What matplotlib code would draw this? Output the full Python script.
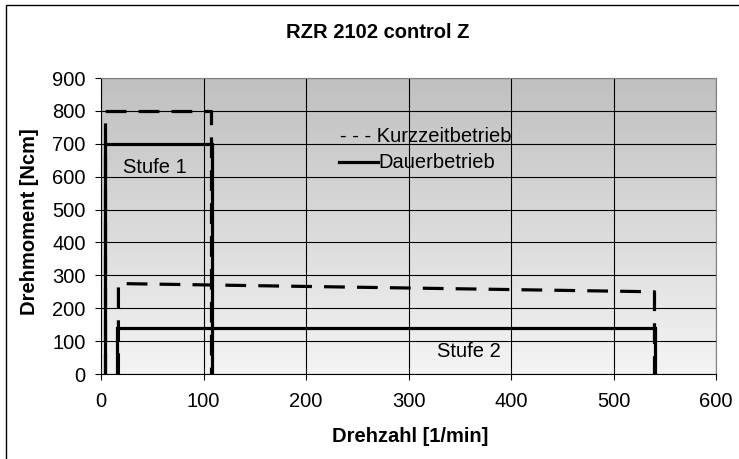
import numpy as np
import matplotlib.pyplot as plt
from matplotlib.patches import Rectangle

plt.rcParams['font.family'] = ['Liberation Sans', 'DejaVu Sans']

title = 'RZR 2102 control Z'
xlabel = 'Drehzahl [1/min]'
ylabel = 'Drehmoment [Ncm]'

# Dauerbetrieb (solid)
dauer1_x = [4, 4, 108, 108]
dauer1_y = [0, 700, 700, 0]
dauer2_x = [16, 16, 540, 540]
dauer2_y = [0, 140, 140, 0]

# Kurzzeitbetrieb (dashed)
kurz1_x = [4, 4, 107, 107]
kurz1_y = [0, 800, 800, 0]
kurz2_x = [17, 17, 540, 540]
kurz2_y = [0, 275, 250, 0]

xticks = [0, 100, 200, 300, 400, 500, 600]
yticks = [0, 100, 200, 300, 400, 500, 600, 700, 800, 900]

W, H = 739, 459
fs = 14.5
lw = 2.3

fig = plt.figure(figsize=(W / 100, H / 100), dpi=100)
fig.patch.set_facecolor('white')

# chart frame (only left/top visible in the crop)
fig.patches.append(Rectangle((6 / W, -0.05), 1.2, 1 - 5 / H + 0.05, transform=fig.transFigure,
                             fill=False, edgecolor='black', linewidth=1.0))

ax = fig.add_axes([101 / W, 1 - 374 / H, (716 - 101) / W, (374 - 78) / H])

# gray gradient background: dark at top, light at bottom
g = np.linspace(192, 244, 256) / 255.0
grad = np.repeat(g.reshape(-1, 1, 1), 3, axis=2)
ax.imshow(grad, extent=[0, 600, 0, 900], origin='upper', aspect='auto', zorder=0)

ax.set_xlim(0, 600)
ax.set_ylim(0, 900)
ax.set_xticks(xticks)
ax.set_yticks(yticks)
ax.grid(True, color='black', linewidth=0.8)
ax.set_axisbelow(True)
for s in ['top', 'right']:
    ax.spines[s].set_color('#808080')
for s in ['left', 'bottom']:
    ax.spines[s].set_color('black')
ax.tick_params(direction='out', length=4, width=0.8, labelsize=fs)
ax.tick_params(axis='x', pad=9)
ax.tick_params(axis='y', pad=7)

dash = (6.5, 3.8)
ax.plot(dauer1_x, dauer1_y, color='black', linewidth=lw, solid_joinstyle='miter', zorder=3)
ax.plot(dauer2_x, dauer2_y, color='black', linewidth=lw, solid_joinstyle='miter', zorder=3)
ax.plot(kurz1_x, kurz1_y, color='black', linewidth=lw, dashes=dash, zorder=3)
ax.plot(kurz2_x, kurz2_y, color='black', linewidth=lw, dashes=dash, zorder=3)

ax.text(53, 629, 'Stufe 1', fontsize=fs, ha='center', va='center', zorder=4)
ax.text(359, 67, 'Stufe 2', fontsize=fs, ha='center', va='center', zorder=4)

# legend-like annotations
ax.text(233, 723, '- - - Kurzzeitbetrieb', fontsize=fs, ha='left', va='center', zorder=4)
ax.plot([232, 270], [644, 644], color='black', linewidth=lw, zorder=4)
ax.text(271, 644, 'Dauerbetrieb', fontsize=fs, ha='left', va='center', zorder=4)

fig.text(378 / W, 1 - 32 / H, title, fontsize=fs, fontweight='bold', ha='center', va='center')
fig.text(410 / W, 1 - 436 / H, xlabel, fontsize=fs, fontweight='bold', ha='center', va='center')
fig.text(30 / W, 1 - 222 / H, ylabel, fontsize=fs, fontweight='bold', ha='center', va='center',
         rotation=90)

fig.savefig('out.png', dpi=100)
